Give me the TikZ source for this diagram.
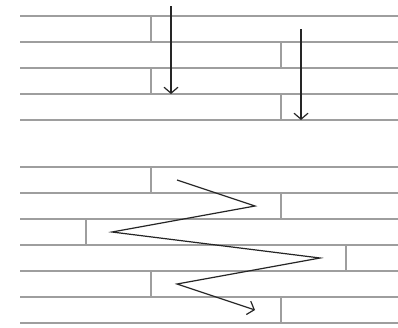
\documentclass[tikz,border=0pt]{standalone}
\usetikzlibrary{arrows.meta}
\begin{document}
\begin{tikzpicture}[x=1pt,y=-1pt,
    seam/.style={draw=black!38,line width=1.5pt},
    scan/.style={draw=black!85,line width=1.2pt,line join=miter,-{Straight Barb[length=6pt,width=14pt]}}]
\useasboundingbox (0,0) rectangle (398,327);
% upper wall: courses and joints
\foreach \i in {0,...,4}
    \draw[seam] (20,16+26*\i) -- (398,16+26*\i);
\foreach \x [count=\n] in {151,281,151,281}
    \draw[seam] (\x,26*\n-10) -- (\x,26*\n+16);
% lower wall: courses and joints
\foreach \i in {0,...,6}
    \draw[seam] (20,167+26*\i) -- (398,167+26*\i);
\foreach \x [count=\n] in {151,281,86,346,151,281}
    \draw[seam] (\x,26*\n+141) -- (\x,26*\n+167);
% straight passes
\coordinate (A1) at (171,6);
\coordinate (A2) at (171,94);
\coordinate (B1) at (301,29);
\coordinate (B2) at (301,120);
\draw[scan] (A1) -- (A2);
\draw[scan] (B1) -- (B2);
% zigzag pass
\coordinate (Z1) at (177,180);
\coordinate (Z2) at (255,206);
\coordinate (Z3) at (112,232);
\coordinate (Z4) at (320,258);
\coordinate (Z5) at (177,284);
\coordinate (Z6) at (255,310);
\draw[scan] (Z1) -- (Z2) -- (Z3) -- (Z4) -- (Z5) -- (Z6);
\end{tikzpicture}
\end{document}
